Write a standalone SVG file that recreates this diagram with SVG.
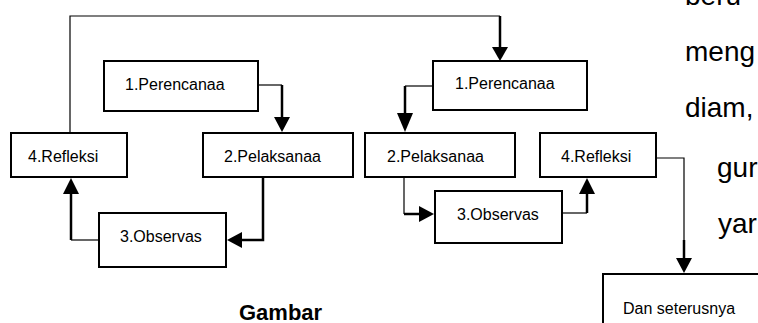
<svg xmlns="http://www.w3.org/2000/svg" width="758" height="323" viewBox="0 0 758 323">
<style>
.box{fill:#fff;stroke:#000;stroke-width:2}
.lbl{font-family:"Liberation Sans",Arial,sans-serif;font-size:16px;fill:#000}
.thin{fill:none;stroke:#000;stroke-width:1.2}
.thick{fill:none;stroke:#000;stroke-width:2.5}
.head{fill:#000}
.body{font-family:"Liberation Sans",Arial,sans-serif;font-size:28px;fill:#000}
.cap{font-family:"Liberation Sans",Arial,sans-serif;font-size:22px;font-weight:bold;fill:#000}
</style>
<rect width="758" height="323" fill="#fff"/>
<g id="connectors">
<path class="thin" d="M258,85 H282"/>
<path class="thick" d="M282,85 V118"/>
<polygon class="head" points="274,117 290,117 282,132"/>
<path class="thick" d="M263,177 V240 H242"/>
<polygon class="head" points="242,232 242,248 227,240"/>
<path class="thin" d="M99,240 H71"/>
<path class="thick" d="M71,240 V193"/>
<polygon class="head" points="63,194 79,194 71,178"/>
<path class="thin" d="M70,133 V16 H500"/>
<path class="thick" d="M500,16 V48"/>
<polygon class="head" points="492,47 508,47 500,61"/>
<path class="thin" d="M433,86 H405"/>
<path class="thick" d="M405,86 V114"/>
<polygon class="head" points="397,113 413,113 405,132"/>
<path class="thin" d="M404,177 V214"/>
<path class="thick" d="M404,214 H420"/>
<polygon class="head" points="419,206 419,222 434,214"/>
<path class="thin" d="M562,213 H587"/>
<path class="thick" d="M587,213 V193"/>
<polygon class="head" points="579,194 595,194 587,178"/>
<path class="thin" d="M656,158 H684 V240"/>
<path class="thick" d="M684,240 V259"/>
<polygon class="head" points="676,258 692,258 684,273"/>
</g>
<g id="p1L"><rect class="box" x="104" y="61" width="154" height="50"/><text class="lbl" x="125" y="90">1.Perencanaa</text></g>
<g id="r4L"><rect class="box" x="11" y="133" width="116" height="44"/><text class="lbl" x="28" y="162">4.Refleksi</text></g>
<g id="p2L"><rect class="box" x="203" y="133" width="150" height="44"/><text class="lbl" x="224" y="162">2.Pelaksanaa</text></g>
<g id="o3L"><rect class="box" x="99" y="213" width="127" height="54"/><text class="lbl" x="120" y="242">3.Observas</text></g>
<g id="p1R"><rect class="box" x="433" y="61" width="154" height="49"/><text class="lbl" x="455" y="89">1.Perencanaa</text></g>
<g id="p2R"><rect class="box" x="365" y="133" width="150" height="44"/><text class="lbl" x="387" y="162">2.Pelaksanaa</text></g>
<g id="r4R"><rect class="box" x="540" y="133" width="116" height="44"/><text class="lbl" x="561" y="162">4.Refleksi</text></g>
<g id="o3R"><rect class="box" x="435" y="191" width="127" height="52"/><text class="lbl" x="457" y="220">3.Observas</text></g>
<g id="dan"><rect class="box" x="603" y="274" width="170" height="60"/><text class="lbl" x="623" y="314">Dan seterusnya</text></g>
<text class="cap" x="239" y="320">Gambar</text>
<g id="bodytext">
<text class="body" x="685" y="5">beru</text>
<text class="body" x="685" y="61">meng</text>
<text class="body" x="685" y="117">diam,</text>
<text class="body" x="717" y="177">gur</text>
<text class="body" x="718" y="233">yar</text>
</g>
</svg>
